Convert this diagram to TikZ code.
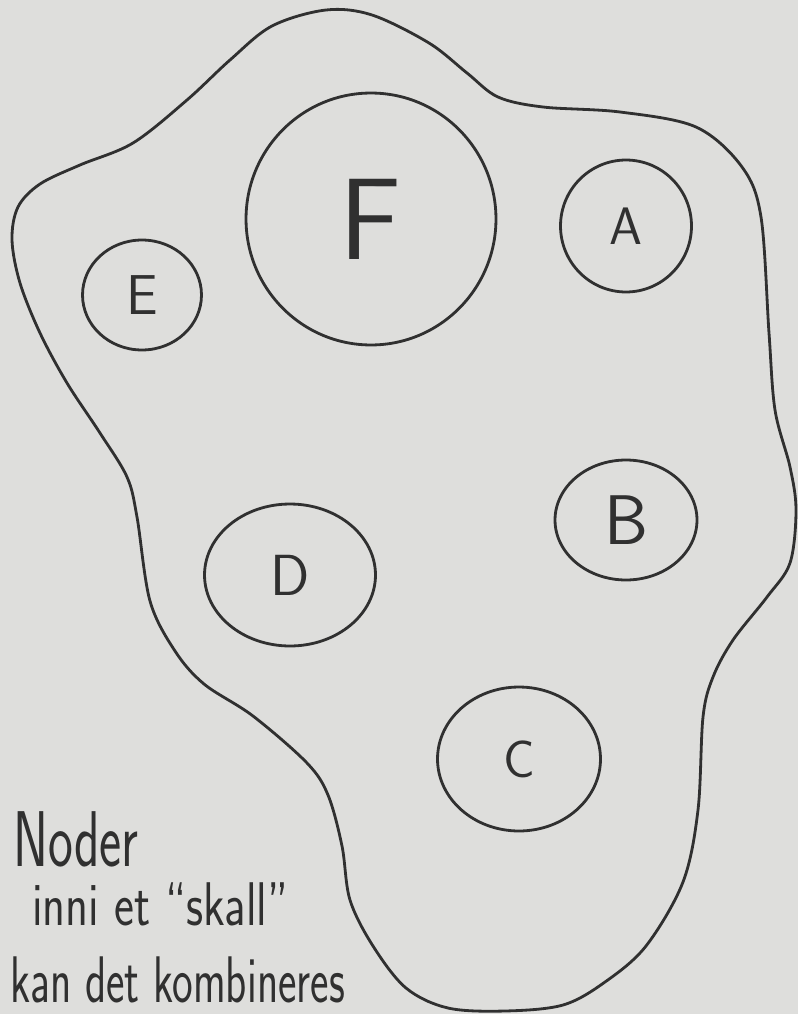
\documentclass[tikz,border=0pt]{standalone}
\usepackage{tikz}
\usetikzlibrary{shapes.geometric}
\definecolor{paper}{RGB}{222,222,220}
\definecolor{pen}{RGB}{48,48,48}

\begin{document}
\begin{tikzpicture}[x=0.02cm,y=-0.02cm]
  \tikzstyle{blob}=[draw=pen,line width=1.6pt,ellipse,inner sep=0pt,text=pen]
  \tikzstyle{note}=[anchor=base west,inner sep=0pt,text=pen,font=\sffamily]
  % Sheet of paper
  \path[use as bounding box,fill=paper] (0,0) rectangle (798,1014);
  % The shell around all nodes
  \draw[pen,line width=1.6pt] plot[smooth cycle,tension=0.55] coordinates {
    (326,10) (372,15) (429,43) (467,73) (498,97) (543,107) (620,112)
    (696,127) (742,167) (761,217) (769,333) (775,410) (790,467) (796,510)
    (790,563) (767,597) (733,640) (713,677) (703,717) (698,810) (683,882)
    (646,946) (605,982) (563,1005) (505,1011) (448,1008) (406,988)
    (373,946) (350,900) (342,846) (328,795) (307,763) (253,716) (204,684)
    (175,651) (150,601) (137,517) (127,477) (100,433) (67,383) (40,333)
    (20,283) (12,240) (18,207) (40,184) (80,165) (133,143) (187,100)
    (230,60) (272,26)};
  % Nodes inside the shell
  \node[blob,minimum width=5cm,minimum height=5.04cm,font=\sffamily\fontsize{66}{66}\selectfont] (F) at (371,219) {F};
  \node[blob,minimum width=2.62cm,minimum height=2.64cm,font=\sffamily\fontsize{30}{30}\selectfont] (A) at (626,226) {A};
  \node[blob,minimum width=2.38cm,minimum height=2.2cm,font=\sffamily\fontsize{32}{32}\selectfont] (E) at (142,295) {E};
  \node[blob,minimum width=3.42cm,minimum height=2.84cm,font=\sffamily\fontsize{33}{33}\selectfont] (D) at (290,575) {D};
  \node[blob,minimum width=2.84cm,minimum height=2.4cm,font=\sffamily\fontsize{40}{40}\selectfont] (B) at (626,520) {B};
  \node[blob,minimum width=3.26cm,minimum height=2.88cm,font=\sffamily\fontsize{30}{30}\selectfont] (C) at (519,759) {C};
  % Handwritten note, bottom left
  \node[note,font=\sffamily\fontsize{30}{30}\selectfont] (line1) at (13,866) {\scalebox{1}[1.5]{Noder}};
  \node[note,font=\sffamily\fontsize{27}{27}\selectfont] (line2) at (32,925) {\scalebox{1}[1.3]{inni et ``skall''}};
  \node[note,font=\sffamily\fontsize{25}{25}\selectfont] (line3) at (10,1002) {\scalebox{1}[1.5]{kan det kombineres}};
\end{tikzpicture}
\end{document}
